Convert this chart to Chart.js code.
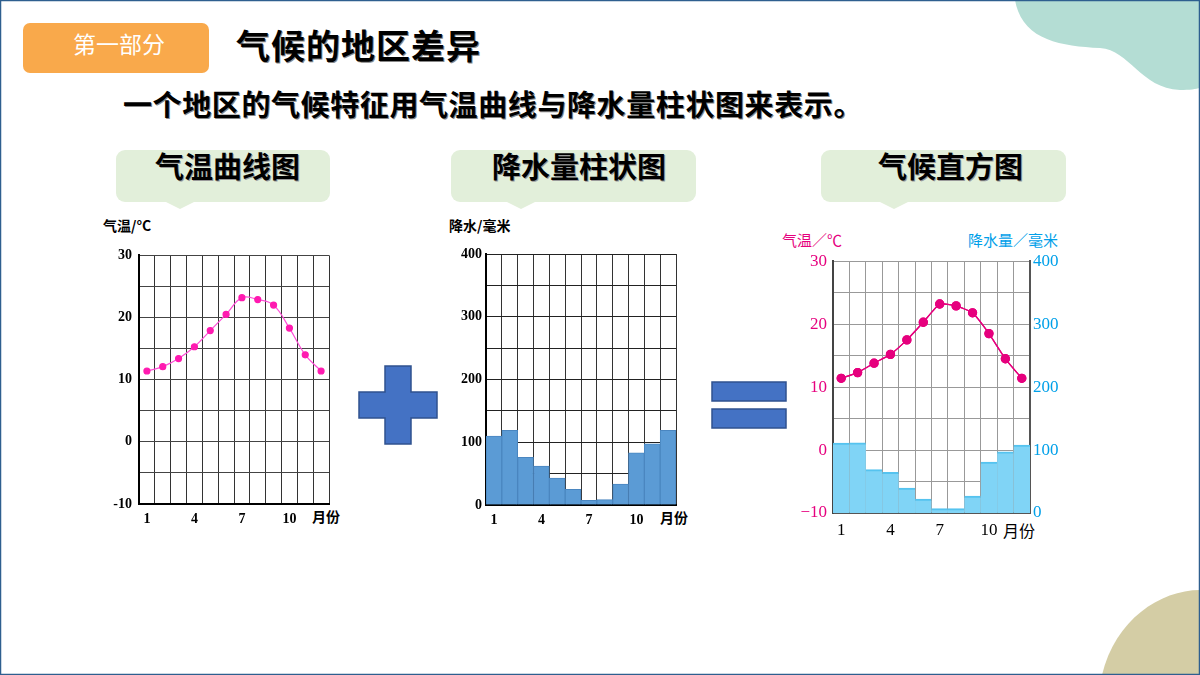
<!DOCTYPE html>
<html>
<head>
<meta charset="utf-8">
<script src="https://cdn.jsdelivr.net/npm/chart.js@4"></script>
<style>
  body { margin: 0; width: 1200px; height: 675px; overflow: hidden; background: #fff; font-family: "Noto Sans CJK SC", sans-serif; }
  .abs { position: absolute; }
  .tab { position: absolute; top: 150px; height: 52px; background: #e2efda; border-radius: 9px; }
  .tab span { position: absolute; top: -2px; font-size: 29px; font-weight: 700; line-height: 34px; color: #000; text-shadow: 1px 1px 0 #999; }
  .tab i { position: absolute; bottom: -7px; width: 0; height: 0; border-left: 14px solid transparent; border-right: 14px solid transparent; border-top: 7px solid #e2efda; }
  .lbl { position: absolute; font-size: 14px; font-weight: 700; font-family: "Noto Sans CJK SC", serif; }
  canvas { position: absolute; }
</style>
</head>
<body>
<svg class="abs" style="left:0;top:0" width="1200" height="675">
  <path d="M1015 0 C1022 40 1060 46 1100 48 C1130 50 1140 88 1180 90 C1190 90 1196 89 1200 88 L1200 0 Z" fill="#b4ddd4"/>
  <path d="M1102 675 C1115 620 1160 590 1200 590 L1200 675 Z" fill="#d4cda5"/>
  <rect x="0.5" y="0.5" width="1199" height="674" fill="none" stroke="#2e5f8f" stroke-width="1.5"/>
  <path d="M385 366 H411 V392 H437 V418 H411 V444 H385 V418 H359 V392 H385 Z" fill="#4472c4" stroke="#2f528f" stroke-width="1.5"/>
  <rect x="712" y="382" width="74" height="19" fill="#4472c4" stroke="#2f528f" stroke-width="1.5"/>
  <rect x="712" y="409" width="74" height="19" fill="#4472c4" stroke="#2f528f" stroke-width="1.5"/>
</svg>

<div class="abs" style="left:23px;top:23px;width:186px;height:50px;background:#f9a94b;border-radius:7px;"></div>
<div class="abs" style="left:73px;top:28px;font-size:23px;color:#fff;line-height:30px;">第一部分</div>
<div class="abs" style="left:236px;top:23px;font-size:34px;font-weight:700;line-height:44px;letter-spacing:1px;text-shadow:1px 1px 0 #888;">气候的地区差异</div>
<div class="abs" style="left:123px;top:84px;font-size:29px;font-weight:700;line-height:38px;letter-spacing:0.6px;text-shadow:1px 1px 0 #888;">一个地区的气候特征用气温曲线与降水量柱状图来表示。</div>

<div class="tab" style="left:116px;width:214px;"><span style="left:39px;">气温曲线图</span><i style="left:50px;"></i></div>
<div class="tab" style="left:451px;width:245px;"><span style="left:41px;">降水量柱状图</span><i style="left:56px;"></i></div>
<div class="tab" style="left:821px;width:245px;"><span style="left:57px;">气候直方图</span><i style="left:59px;"></i></div>

<div class="lbl" style="left:103px;top:215px;">气温/°C</div>
<div class="lbl" style="left:312px;top:506px;">月份</div>
<div class="lbl" style="left:449px;top:215px;">降水/毫米</div>
<div class="lbl" style="left:660px;top:507px;">月份</div>
<div class="lbl" style="left:782px;top:229px;font-size:15px;font-weight:400;color:#e6007e;">气温／℃</div>
<div class="lbl" style="left:968px;top:229px;font-size:15px;font-weight:400;color:#00a0e9;">降水量／毫米</div>
<div class="lbl" style="left:1003px;top:518px;font-size:16px;font-weight:400;">月份</div>

<canvas id="c1" style="left:95px;top:240px;" width="240" height="295"></canvas>
<canvas id="c2" style="left:440px;top:240px;" width="245" height="295"></canvas>
<canvas id="c3" style="left:778px;top:245px;" width="302" height="300"></canvas>

<script>
// months
const months = ['1', '2', '3', '4', '5', '6', '7', '8', '9', '10', '11', '12'];
const shownMonths = ['1', '4', '7', '10'];
// temperature curve (°C)
const tempA = [11.4, 12.1, 13.4, 15.3, 17.9, 20.5, 23.2, 22.9, 22.0, 18.3, 14.0, 11.4];
// precipitation columns (mm)
const precipA = [110, 119, 76, 62, 43, 25, 7.5, 8.5, 33.5, 83, 97.5, 119];
// combined climate chart
const tempC = [11.4, 12.3, 13.8, 15.2, 17.5, 20.3, 23.2, 22.9, 21.8, 18.5, 14.5, 11.4];
const precipC = [111, 111.5, 69, 64.5, 39.5, 22, 7, 7, 27, 81, 97, 108];
// tick labels
const tempTicks = [-10, 0, 10, 20, 30];
const precipTicks = [0, 100, 200, 300, 400];

Chart.defaults.animation = false;
Chart.defaults.devicePixelRatio = 1;

const monthTick = (v, i) => shownMonths.includes(months[i]) ? months[i] : '';
const boldSerif = { family: 'Liberation Serif', size: 14, weight: 'bold' };

function xAxis(h, font, grid) {
  return {
    type: 'category', offset: true,
    grid: Object.assign({ offset: true, drawTicks: false }, grid),
    border: { color: '#000', width: 2 },
    ticks: { color: '#000', font: font, padding: 7, autoSkip: false, maxRotation: 0, callback: monthTick },
    afterFit: s => { s.height = h; }
  };
}

// 气温曲线图
new Chart(document.getElementById('c1'), {
  type: 'line',
  data: {
    labels: months,
    datasets: [{
      data: tempA, borderColor: '#ff4fd8', borderWidth: 1.2, tension: 0.4,
      pointRadius: 3, pointBackgroundColor: '#ff1ab0', pointBorderColor: '#ff1ab0'
    }]
  },
  options: {
    responsive: false,
    layout: { padding: { top: 14, right: 6 } },
    plugins: { legend: { display: false }, tooltip: { enabled: false } },
    scales: {
      x: xAxis(31, boldSerif, { color: '#333', lineWidth: 1 }),
      y: {
        min: -10, max: 30,
        grid: { color: '#444', drawTicks: false },
        border: { color: '#000', width: 2 },
        ticks: { stepSize: 5, padding: 7, color: '#000', font: boldSerif,
          callback: v => tempTicks.includes(v) ? String(v) : '' },
        afterFit: s => { s.width = 44; }
      }
    }
  }
});

// 降水量柱状图
new Chart(document.getElementById('c2'), {
  type: 'bar',
  data: {
    labels: months,
    datasets: [{
      data: precipA, backgroundColor: '#5b9bd5', borderColor: '#4a86c0', borderWidth: 1,
      barPercentage: 1, categoryPercentage: 1
    }]
  },
  options: {
    responsive: false,
    layout: { padding: { top: 14, right: 9 } },
    plugins: { legend: { display: false }, tooltip: { enabled: false } },
    scales: {
      x: Object.assign(xAxis(30, boldSerif, { color: '#333', lineWidth: 1 }), { z: 1 }),
      y: {
        z: 1, min: 0, max: 400,
        grid: { color: '#222', drawTicks: false },
        border: { color: '#000', width: 2 },
        ticks: { stepSize: 50, padding: 4, color: '#000', font: boldSerif,
          callback: v => precipTicks.includes(v) ? String(v) : '' },
        afterFit: s => { s.width = 46; }
      }
    }
  }
});

// 气候直方图
const lineOnTop = {
  id: 'lineOnTop',
  afterDraw(chart) {
    const meta = chart.getDatasetMeta(1);
    const a = chart.chartArea;
    chart.ctx.save();
    chart.ctx.beginPath();
    chart.ctx.rect(a.left, a.top - 6, a.right - a.left, a.bottom - a.top + 12);
    chart.ctx.clip();
    meta.controller.draw();
    chart.ctx.restore();
  }
};
const serif17 = { family: 'Liberation Serif', size: 17 };
new Chart(document.getElementById('c3'), {
  type: 'bar',
  data: {
    labels: months,
    datasets: [{
      type: 'bar', yAxisID: 'y1', order: 2,
      data: precipC, backgroundColor: '#80d4f6',
      borderColor: '#55c3ef', borderWidth: { top: 2, left: 0, right: 0, bottom: 0 },
      barPercentage: 1, categoryPercentage: 1
    }, {
      type: 'line', yAxisID: 'y', order: 1,
      data: tempC, borderColor: '#e6007e', borderWidth: 1.3, tension: 0.15,
      pointRadius: 4, pointBackgroundColor: '#e6007e', pointBorderColor: '#e6007e'
    }]
  },
  options: {
    responsive: false,
    layout: { padding: { top: 12 } },
    plugins: { legend: { display: false }, tooltip: { enabled: false } },
    scales: {
      x: Object.assign(xAxis(32, serif17, { color: '#999', lineWidth: 1 }), { z: 1, border: { color: '#555', width: 2 } }),
      y: {
        z: 1, position: 'left', min: -10, max: 30,
        grid: { color: '#999', drawTicks: false },
        border: { color: '#444', width: 2 },
        ticks: { stepSize: 5, padding: 6, color: '#e6007e', font: serif17,
          callback: v => tempTicks.includes(v) ? String(v).replace('-', '\u2212') : '' },
        afterFit: s => { s.width = 55; }
      },
      y1: {
        position: 'right', min: 0, max: 400,
        grid: { display: false, drawTicks: false },
        border: { color: '#555', width: 2 },
        ticks: { stepSize: 50, padding: 3, color: '#00a0e9', font: serif17,
          callback: v => precipTicks.includes(v) ? String(v) : '' },
        afterFit: s => { s.width = 50; }
      }
    }
  },
  plugins: [lineOnTop]
});
</script>
</body>
</html>
